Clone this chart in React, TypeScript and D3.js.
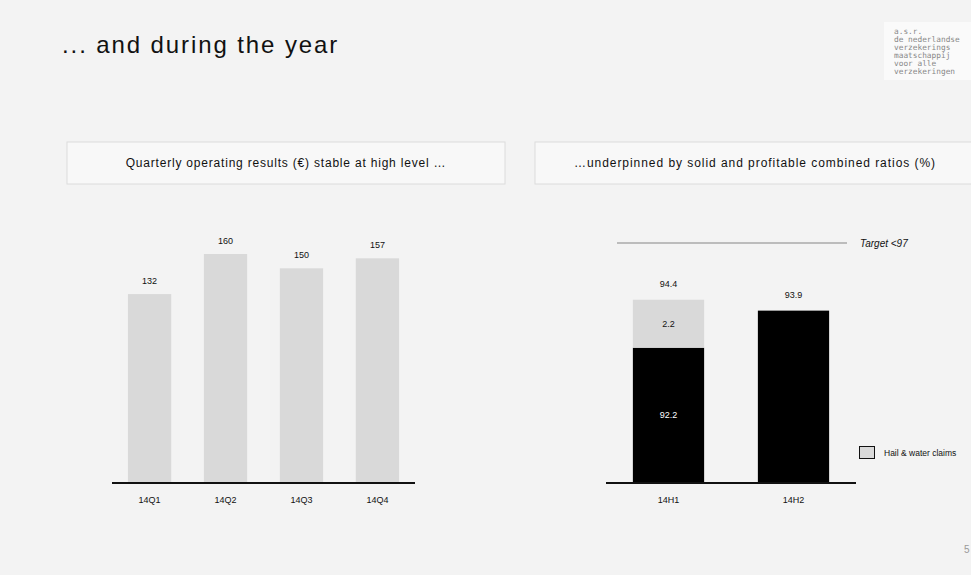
import React from "react";
import * as d3 from "d3";

const quarters = ["14Q1", "14Q2", "14Q3", "14Q4"];
const quarterValues = [132, 160, 150, 157];

const halves = ["14H1", "14H2"];
const baseRatio = [92.2, 93.9];
const hailRatio = [2.2, 0];
const totalLabels = ["94.4", "93.9"];
const target = 97;
const logoLines = ["a.s.r.", "de nederlandse", "verzekerings", "maatschappij", "voor alle", "verzekeringen"];

const W = 971;
const H = 575;
const FONT = "Liberation Sans, Arial, sans-serif";

export default function App() {
  // Left chart
  const xL = d3.scaleBand<string>().domain(quarters).range([112, 415]).paddingInner(0.43).paddingOuter(0.21);
  const yL = d3.scaleLinear().domain([0, 160]).range([483, 254]);

  // Right chart
  const xR = d3.scaleBand<string>().domain(halves).range([606, 856]).paddingInner(0.43).paddingOuter(0.215);
  const yR = d3.scaleLinear().domain([86.0, 97]).range([483, 243]);

  const stack = halves.map((h, i) => ({ h, base: baseRatio[i], hail: hailRatio[i], label: totalLabels[i] }));

  return (
    <svg width={W} height={H} style={{ position: "absolute", left: 0, top: 0 }} fontFamily={FONT}>
      <rect x={0} y={0} width={W} height={H} fill="#f3f3f3" />
      <text x={62} y={53} fontSize={24} letterSpacing={1.9} fill="#111">... and during the year</text>

      {/* logo */}
      <rect x={884} y={22} width={87} height={58} fill="#fafafa" />
      {logoLines.map((l, i) => (
        <text key={l} x={894} y={34 + i * 8} fontSize={7.8} fontFamily="DejaVu Sans Mono, monospace" fill="#888">{l}</text>
      ))}

      {/* panel headers */}
      <rect x={67} y={142} width={438} height={42} fill="#f8f8f8" stroke="#dcdcdc" />
      <text x={286} y={167} fontSize={12} letterSpacing={0.8} textAnchor="middle" fill="#111">Quarterly operating results (€) stable at high level …</text>
      <rect x={535} y={142} width={440} height={42} fill="#f8f8f8" stroke="#dcdcdc" />
      <text x={755} y={167} fontSize={12} letterSpacing={0.95} textAnchor="middle" fill="#111">…underpinned by solid and profitable combined ratios (%)</text>

      {/* left bars */}
      {quarters.map((q, i) => (
        <g key={q}>
          <rect x={xL(q)} y={yL(quarterValues[i])} width={xL.bandwidth()} height={yL(0) - yL(quarterValues[i])} fill="#d9d9d9" />
          <text x={xL(q)! + xL.bandwidth() / 2} y={yL(quarterValues[i]) - 10} fontSize={9} textAnchor="middle" fill="#111">{quarterValues[i]}</text>
          <text x={xL(q)! + xL.bandwidth() / 2} y={503} fontSize={9} textAnchor="middle" fill="#111">{q}</text>
        </g>
      ))}
      <line x1={112} x2={415} y1={483} y2={483} stroke="#111" strokeWidth={2} />

      {/* right chart */}
      <line x1={617} x2={847} y1={yR(target)} y2={yR(target)} stroke="#aaa" strokeWidth={1.5} />
      <text x={860} y={yR(target) + 4} fontSize={10} fontStyle="italic" fill="#111">Target &lt;{target}</text>
      {stack.map((d) => {
        const x = xR(d.h)!;
        const bw = xR.bandwidth();
        const topBase = yR(d.base);
        const topAll = yR(d.base + d.hail);
        return (
          <g key={d.h}>
            <rect x={x} y={topBase} width={bw} height={yR.range()[0] - topBase} fill="#000" />
            {d.hail > 0 && (
              <>
                <rect x={x} y={topAll} width={bw} height={topBase - topAll} fill="#d9d9d9" />
                <text x={x + bw / 2} y={(topAll + topBase) / 2 + 3} fontSize={9} textAnchor="middle" fill="#111">{d.hail.toFixed(1)}</text>
                <text x={x + bw / 2} y={(topBase + 483) / 2 + 3} fontSize={9} textAnchor="middle" fill="#fff">{d.base.toFixed(1)}</text>
              </>
            )}
            <text x={x + bw / 2} y={topAll - 13} fontSize={9} textAnchor="middle" fill="#111">{d.label}</text>
            <text x={x + bw / 2} y={503} fontSize={9} textAnchor="middle" fill="#111">{d.h}</text>
          </g>
        );
      })}
      <line x1={606} x2={856} y1={483} y2={483} stroke="#111" strokeWidth={2} />

      {/* legend */}
      <rect x={859.5} y={446.5} width={15} height={12} fill="#d9d9d9" stroke="#111" />
      <text x={884} y={456} fontSize={8.5} fill="#111">Hail &amp; water claims</text>

      <text x={964} y={553} fontSize={10} fill="#999">5</text>
    </svg>
  );
}
